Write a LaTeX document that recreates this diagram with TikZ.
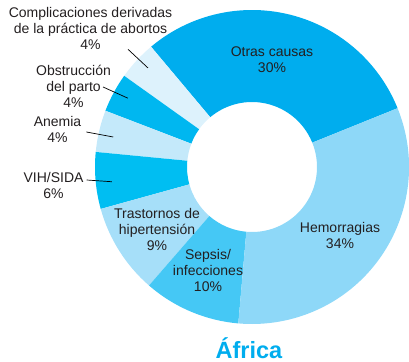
\documentclass[tikz,border=0pt]{standalone}
\usepackage{fontspec}
\setmainfont{Liberation Sans}
\definecolor{otras}{HTML}{00ADEE}
\definecolor{compl}{HTML}{DDF2FC}
\definecolor{obstr}{HTML}{00B7F0}
\definecolor{anem}{HTML}{C4E9FA}
\definecolor{vih}{HTML}{00BEF2}
\definecolor{trast}{HTML}{A6DFF9}
\definecolor{seps}{HTML}{45C8F5}
\definecolor{hemo}{HTML}{8ED8F8}
\definecolor{txt}{HTML}{231F20}
\tikzset{
  lbl/.style={align=center,inner sep=0pt,text=txt,font=\fontsize{14}{16}\selectfont},
  leader/.style={line width=0.7pt,black}
}
\begin{document}
\begin{tikzpicture}[x=1pt,y=1pt]
	\useasboundingbox (-252,-194) rectangle (157,167);
	% slices of the ring
	\foreach \a/\b/\c in {22/130/otras,130/144.5/compl,144.5/159/obstr,159/174.5/anem,174.5/195.5/vih,195.5/229/trast,229/265/seps,265/382/hemo}
		\fill[\c] (\a:65) arc[start angle=\a,end angle=\b,radius=65] -- (\b:157) arc[start angle=\b,end angle=\a,radius=157] -- cycle;
	% labels inside
	\node[lbl] (otras-l) at (20,107) {Otras causas\\30\%};
	\node[lbl] (hemo-l) at (88,-68) {Hemorragias\\34\%};
	\node[lbl] (seps-l) at (-44,-103) {Sepsis/\\infecciones\\10\%};
	\node[lbl] (trast-l) at (-95,-62) {Trastornos de\\hipertensión\\9\%};
	% labels outside
	\node[lbl] (vih-l) at (-198.5,-18) {VIH/SIDA\\6\%};
	\node[lbl] (anem-l) at (-194.5,37.5) {Anemia\\4\%};
	\node[lbl] (obstr-l) at (-178.5,81) {Obstrucción\\del parto\\4\%};
	\node[lbl] (compl-l) at (-161.5,139) {Complicaciones derivadas\\de la práctica de abortos\\4\%};
	\coordinate (vih-e) at (186:141);
	\coordinate (anem-e) at (167.8:142);
	\coordinate (obstr-e) at (151:142);
	\coordinate (compl-e) at (136.4:143.6);
	\draw[leader] ([xshift=3pt,yshift=5pt]vih-l.east) -- (vih-e);
	\draw[leader] ([xshift=5pt,yshift=-2.5pt]anem-l.east) -- (anem-e);
	\draw[leader] ([xshift=-8pt,yshift=-1pt]obstr-l.east) -- (obstr-e);
	\draw[leader] ([xshift=37.5pt]compl-l.south) -- (compl-e);
	\node[anchor=base,inner sep=0pt,text=otras,font=\fontsize{23.5}{28}\selectfont\bfseries] (titulo) at (-3,-191) {África};
\end{tikzpicture}
\end{document}
